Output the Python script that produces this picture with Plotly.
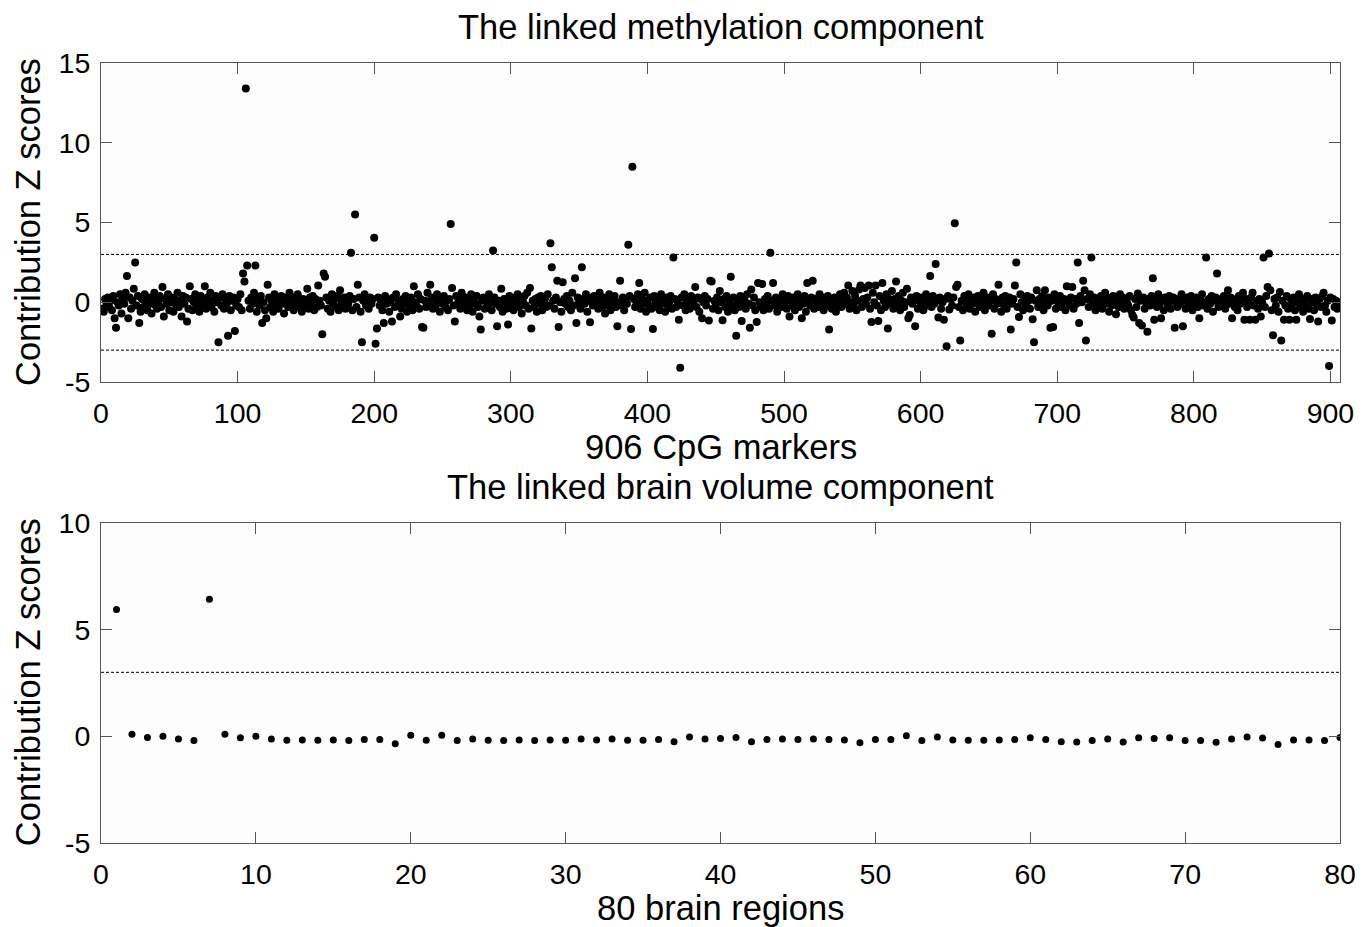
import plotly.graph_objects as go

# ---- Data: contribution Z scores of the 906 CpG markers ----
cpg_z = [
    -0.4, -0.6, 0.2, -0.1, 0.3, -0.3, 0.1, -0.5, 0.4, -1.0, -1.6, 0.0, -0.2, 0.5, -0.7, 0.2, -0.1, 0.6, 1.65, -1.0,
    0.3, -0.4, 0.1, 0.85, 2.5, -0.2, 0.4, -1.3, -0.6, 0.2, -0.3, 0.5, 0.0, -0.5, 0.3, -0.1, -0.7, 0.2, 0.6, -0.2,
    -0.4, 0.1, 0.4, -0.3, 0.95, -0.9, 0.2, -0.1, 0.5, -0.5, 0.0, 0.3, -0.6, 0.2, -0.2, 0.6, -0.3, 0.1, -0.9, 0.4,
    -0.1, 0.3, -1.2, -0.4, 1.0, 0.2, -0.5, 0.0, 0.5, -0.3, 0.1, -0.6, 0.4, -0.2, 0.2, 1.0, -0.4, 0.3, -0.1, 0.6,
    -0.3, 0.1, -0.6, 0.4, 0.0, -2.5, 0.3, -0.2, 0.5, -0.4, 0.2, -0.1, -2.1, 0.4, -0.5, 0.1, 0.3, -1.8, -0.2, 0.2,
    -0.3, 0.5, -0.5, 1.8, 1.3, 13.4, 2.3, 0.1, -0.4, 0.3, -0.1, 0.6, 2.3, -0.6, 0.2, -0.2, 0.4, -1.3, 0.0, -0.5,
    -1.0, 1.1, 0.3, -0.3, 0.1, -0.6, 0.5, -0.2, 0.2, -0.4, 0.0, 0.4, -0.1, -0.7, 0.3, 0.1, -0.3, 0.6, -0.2, 0.2,
    -0.5, 0.3, -0.1, 0.5, -0.3, 0.1, -0.6, 0.2, 0.0, -0.2, 0.85, -0.4, 0.3, -0.1, 0.4, -0.5, 0.2, -0.3, 1.05, 0.1,
    -0.2, -2.0, 1.8, 1.6, 0.3, -0.4, 0.1, -0.6, 0.5, -0.1, 0.2, -0.3, 0.4, -0.5, 0.75, 0.0, -0.2, 0.3, -0.4, 0.2,
    -0.1, 0.4, 3.1, -0.5, 0.2, 5.5, -0.3, 1.1, 0.3, -0.6, -2.5, 0.1, 0.5, -0.2, 0.0, -0.4, 0.3, -0.1, 0.2, 4.05,
    -2.6, -1.65, 0.3, -0.2, 0.1, -0.5, -1.3, 0.4, -0.1, 0.2, -0.6, 0.0, -1.2, 0.3, -0.3, 0.5, -0.2, 0.1, -0.9, -0.4,
    0.2, -0.1, 0.4, -0.6, 0.1, -0.3, 0.3, -0.5, 1.0, 0.0, -0.2, 0.5, -0.4, 0.2, -1.55, -1.6, 0.1, -0.3, 0.6, -0.1,
    1.1, 0.3, -0.4, 0.2, -0.2, 0.5, 0.0, -0.6, 0.3, -0.1, 0.4, -0.3, 0.1, -0.5, 0.2, 4.9, 0.9, -0.2, -1.2, 0.4,
    -0.1, 0.2, -0.4, 0.6, 0.0, -0.3, 0.3, -0.5, 0.1, -0.2, 0.5, -0.6, 0.2, -0.1, 0.4, -0.3, -0.9, -1.7, 0.1, 0.3,
    -0.4, 0.2, -0.2, 0.5, 0.0, -0.5, 3.25, 0.3, -0.1, -1.5, 0.1, -0.3, 0.85, -0.6, 0.2, 0.0, -0.4, -1.4, 0.4, -0.2,
    0.1, -0.5, 0.3, -0.1, 0.5, -0.3, 0.2, -0.7, 0.0, 0.4, -0.2, 0.6, -0.4, 0.9, -1.65, 0.1, -0.3, 0.2, -0.6, 0.3,
    -0.1, 0.4, -0.5, 0.0, 0.2, -0.3, 0.5, -0.2, 3.7, 2.2, 0.1, -0.4, 0.3, 1.35, -1.55, 0.0, -0.6, 1.25, 0.2, -0.1,
    0.4, -0.3, 0.1, -0.5, 0.6, -0.2, 1.5, -1.3, 0.3, 0.0, -0.4, 2.2, 0.2, -0.1, 0.5, -0.6, 0.1, -1.25, 0.3, -0.2,
    0.4, -0.1, 0.2, -0.4, 0.6, 0.0, -0.3, 0.3, -0.7, 0.1, -0.2, 0.5, -0.5, 0.2, -0.1, 0.4, -0.3, -1.5, 0.0, 1.35,
    -0.2, 0.3, -0.5, 0.1, -0.1, 3.6, 0.4, -1.67, 8.5, 0.2, -0.3, 0.0, 0.5, 1.2, -0.4, 0.2, -0.1, 0.6, -0.6, 0.1,
    -0.2, 0.3, -0.4, -1.67, 0.4, 0.0, -0.3, 0.2, -0.5, 0.5, -0.1, 0.1, -0.6, 0.3, -0.2, 0.0, 0.4, -0.4, 2.8, 0.2,
    -0.3, 0.1, -1.1, -4.1, 0.3, -0.2, 0.5, -0.5, 0.0, 0.2, -0.4, 0.4, -0.1, 0.1, 0.95, -0.3, 0.3, -0.6, 0.2, -1.0,
    0.0, 0.4, -0.2, 0.2, -1.15, 1.35, 1.3, -0.4, 0.1, -0.1, 0.3, -0.5, 0.7, 0.0, -1.13, 0.2, -0.3, 0.4, -0.6, 0.1,
    1.6, -0.2, 0.3, -0.5, -2.1, 0.1, -0.3, 0.4, -1.17, 0.0, 0.2, -0.4, 0.5, -0.1, -1.6, 0.8, -0.2, 0.3, -0.5, -1.23,
    1.2, 0.0, -0.3, 1.15, -0.5, 0.2, -0.1, 0.4, -0.4, 3.1, 0.1, 1.2, -0.2, 0.3, -0.6, 0.2, 0.0, -0.3, 0.5, -0.1,
    0.2, -0.4, 0.4, -0.9, 0.1, -0.2, 0.3, -0.5, 0.0, 0.5, -0.3, 0.2, -1.0, -0.1, 0.4, -0.6, 1.2, 0.1, -0.2, 0.3,
    1.35, -0.4, 0.2, 0.0, -0.3, 0.5, -0.1, 0.3, -0.5, 0.1, -0.2, 0.4, -1.7, 0.2, -0.4, 0.0, 0.3, -0.6, 0.1, -0.2,
    0.5, -0.3, 0.2, 0.6, -0.1, 0.3, 1.05, -0.4, 0.0, 0.7, -0.2, 0.4, -0.5, 0.1, 0.8, 1.05, -0.3, 0.2, 0.9, -0.1,
    0.3, 1.05, -0.4, -1.23, 0.6, 0.0, 1.05, -0.2, -1.17, 0.4, -0.5, 1.2, 0.1, -0.3, 0.5, -1.65, 0.2, -0.1, 0.7, -0.4,
    0.2, 1.3, -0.2, 0.4, -0.5, 0.1, 0.6, -0.3, 0.0, 0.85, -1.0, -0.8, 0.3, -0.1, 0.2, -1.5, 0.4, -0.4, 0.1, -0.2,
    0.3, -0.5, 0.0, 0.5, -0.2, 0.2, 1.65, -0.3, 0.4, -0.1, 2.4, 0.1, -0.96, 0.3, -0.4, 0.0, -1.1, 0.2, -2.76, 0.4,
    -0.45, 0.2, -0.2, 0.3, 4.95, 0.95, 1.1, -0.3, -2.4, 0.1, -0.5, 0.4, 0.0, -0.2, 0.5, -0.4, 0.2, -0.1, 0.3, -0.6,
    0.1, 0.4, -0.3, 0.2, -0.1, 0.6, -0.5, 0.0, 0.3, -0.2, 0.1, -1.97, 0.5, -0.4, 0.2, -0.1, 1.1, 0.0, -0.6, 0.3,
    -0.2, 0.4, -0.4, 0.1, 0.3, -1.7, -0.1, 0.2, 1.05, 2.5, -0.3, -0.92, 0.5, 0.0, -0.5, 0.2, -0.2, 0.4, 0.1, -0.4,
    0.3, -1.07, -2.5, 0.1, 0.75, -0.3, 0.2, -0.1, 0.4, -0.5, 0.75, 0.0, -0.2, 0.3, -1.6, 0.1, -1.55, 0.5, -0.4, 0.2,
    -0.1, 0.4, -0.3, 0.0, 0.2, -0.5, 1.0, 0.1, -0.2, 0.3, 0.95, -0.4, 0.2, -0.1, 2.5, -1.3, 0.4, 0.0, 1.35, 0.75,
    -2.4, 0.2, -0.3, 0.5, 2.8, -0.1, 0.3, -0.5, 0.1, 0.0, -0.2, 0.4, -0.4, 0.2, 0.6, -0.1, 0.3, -0.6, 0.1, -0.2,
    0.4, 0.0, -0.75, 0.2, -0.3, 0.5, -0.1, 0.3, -0.4, 0.1, 0.0, -0.2, 0.4, -0.5, -0.8, -0.96, 0.2, -0.3, 0.55, -1.3,
    0.1, -1.45, 0.3, -0.4, 0.0, -1.85, 0.2, -0.2, 0.4, 1.5, -1.1, 0.1, -0.3, 0.5, -0.1, -1.0, 0.2, -0.5, 0.3, 0.0,
    -0.2, 0.4, -0.4, 0.1, 0.3, -1.6, 0.0, -0.3, 0.2, -0.1, 0.5, -1.5, 0.1, -0.4, 0.3, -0.2, 0.0, 0.4, -0.5, 0.2,
    -0.1, 0.3, -0.3, -1.0, 0.1, 0.5, -0.2, 0.0, 2.8, -0.4, 0.2, -0.1, 0.4, -0.6, 0.1, 0.3, 1.8, -0.3, 0.0, 0.2,
    -0.2, 0.4, -0.4, 0.1, 0.75, -0.1, 0.3, -1.0, 0.0, -0.3, 0.2, -0.5, 0.4, -0.1, 0.1, 0.6, -1.1, 0.2, -0.3, 0.0,
    -1.1, 0.3, 0.6, -0.2, -1.1, 0.1, -0.4, 0.2, -0.9, 0.0, 2.8, -0.3, 0.4, 0.95, 3.05, 0.75, -0.5, -2.07, 0.2, -0.2,
    0.3, -0.6, 0.65, -2.4, 0.1, -1.1, -0.2, 0.4, -0.4, -1.1, 0.2, -0.1, 0.3, -0.5, -1.1, 0.0, 0.5, -0.3, 0.2, -0.6,
    0.1, -0.2, 0.4, -0.4, -1.05, 0.2, 0.0, -0.5, 0.3, -0.1, -1.2, 0.2, -0.3, 0.4, 0.6, -0.2, -0.6, 0.1, -4.0, 0.3,
    -1.15, 0.2, -0.3, 0.1, -0.4, 0.0,
]
cpg_index = list(range(1, len(cpg_z) + 1))

# ---- Data: contribution Z scores of the 80 brain regions ----
region_z = [
    5.95, 0.1, -0.05, 0.0, -0.12, -0.2, 6.43, 0.1, -0.07, 0.0,
    -0.12, -0.18, -0.17, -0.18, -0.17, -0.2, -0.15, -0.15, -0.35, 0.05,
    -0.18, 0.05, -0.2, -0.12, -0.18, -0.2, -0.17, -0.2, -0.17, -0.18,
    -0.12, -0.17, -0.13, -0.18, -0.18, -0.15, -0.25, -0.03, -0.12, -0.1,
    -0.05, -0.25, -0.15, -0.12, -0.15, -0.12, -0.15, -0.17, -0.3, -0.15,
    -0.15, 0.03, -0.2, -0.03, -0.17, -0.18, -0.18, -0.17, -0.15, -0.07,
    -0.15, -0.25, -0.27, -0.2, -0.12, -0.27, -0.07, -0.1, -0.07, -0.2,
    -0.2, -0.28, -0.12, -0.03, -0.08, -0.38, -0.17, -0.17, -0.2, -0.05,
]
region_index = list(range(1, len(region_z) + 1))

threshold = 3

top_xticks = [0, 100, 200, 300, 400, 500, 600, 700, 800, 900]
top_yticks = [-5, 0, 5, 10, 15]
top_ylabels = ["-5", "0", "5", "10", "15"]
bot_xticks = [0, 10, 20, 30, 40, 50, 60, 70, 80]
bot_yticks = [-5, 0, 5, 10]
bot_ylabels = ["-5", "0", "5", "10"]

FONT = "Liberation Sans, Arial, Helvetica, sans-serif"

fig = go.Figure()
fig.add_trace(go.Scatter(
    x=cpg_index, y=cpg_z, mode="markers",
    marker=dict(color="black", size=8, line=dict(width=0)),
    xaxis="x", yaxis="y", showlegend=False, hoverinfo="x+y",
))
fig.add_trace(go.Scatter(
    x=region_index, y=region_z, mode="markers",
    marker=dict(color="black", size=7, line=dict(width=0)),
    xaxis="x2", yaxis="y2", showlegend=False, hoverinfo="x+y",
))

axis_style = dict(
    showgrid=False, zeroline=False, showline=True, linecolor="#555555", linewidth=1,
    mirror="ticks", ticks="inside", ticklen=11, tickwidth=1, tickcolor="#555555",
    tickfont=dict(family=FONT, size=28.5, color="black"),
)

fig.update_layout(
    width=1364, height=919,
    margin=dict(l=93, r=32, t=55, b=84),
    paper_bgcolor="white", plot_bgcolor="#fdfdfd",
    font=dict(family=FONT, color="black"),
    xaxis=dict(axis_style, domain=[0, 1], anchor="y", range=[0, 907],
               tickvals=top_xticks, ticklabelstandoff=6),
    yaxis=dict(axis_style, domain=[0.591, 1], anchor="x", range=[-5, 15],
               tickvals=top_yticks, ticktext=top_ylabels, ticklabelstandoff=4),
    xaxis2=dict(axis_style, domain=[0, 1], anchor="y2", range=[0, 80],
                tickvals=bot_xticks, ticklabelstandoff=6),
    yaxis2=dict(axis_style, domain=[0, 0.4103], anchor="x2", range=[-5, 10],
                tickvals=bot_yticks, ticktext=bot_ylabels, ticklabelstandoff=4),
)

dash_line = dict(color="black", width=1, dash="3px,2px")
fig.add_shape(type="line", xref="x domain", yref="y", x0=0, x1=1, y0=threshold, y1=threshold, line=dash_line)
fig.add_shape(type="line", xref="x domain", yref="y", x0=0, x1=1, y0=-threshold, y1=-threshold, line=dash_line)
fig.add_shape(type="line", xref="x2 domain", yref="y2", x0=0, x1=1, y0=threshold, y1=threshold, line=dash_line)

def label(text, x, y, size, angle=0):
    fig.add_annotation(text=text, xref="paper", yref="paper", x=x, y=y,
                       showarrow=False, textangle=angle,
                       font=dict(family=FONT, size=size, color="black"),
                       xanchor="center", yanchor="middle")

label("The linked methylation component", 0.5, 1.046, 34.5)
label("906 CpG markers", 0.5, 0.508, 34.5)
label("Contribution Z scores", -0.059, 0.796, 34.5, -90)
label("The linked brain volume component", 0.5, 0.456, 34.5)
label("80 brain regions", 0.5, -0.083, 34.5)
label("Contribution Z scores", -0.059, 0.206, 34.5, -90)

fig.write_html("out.html")
